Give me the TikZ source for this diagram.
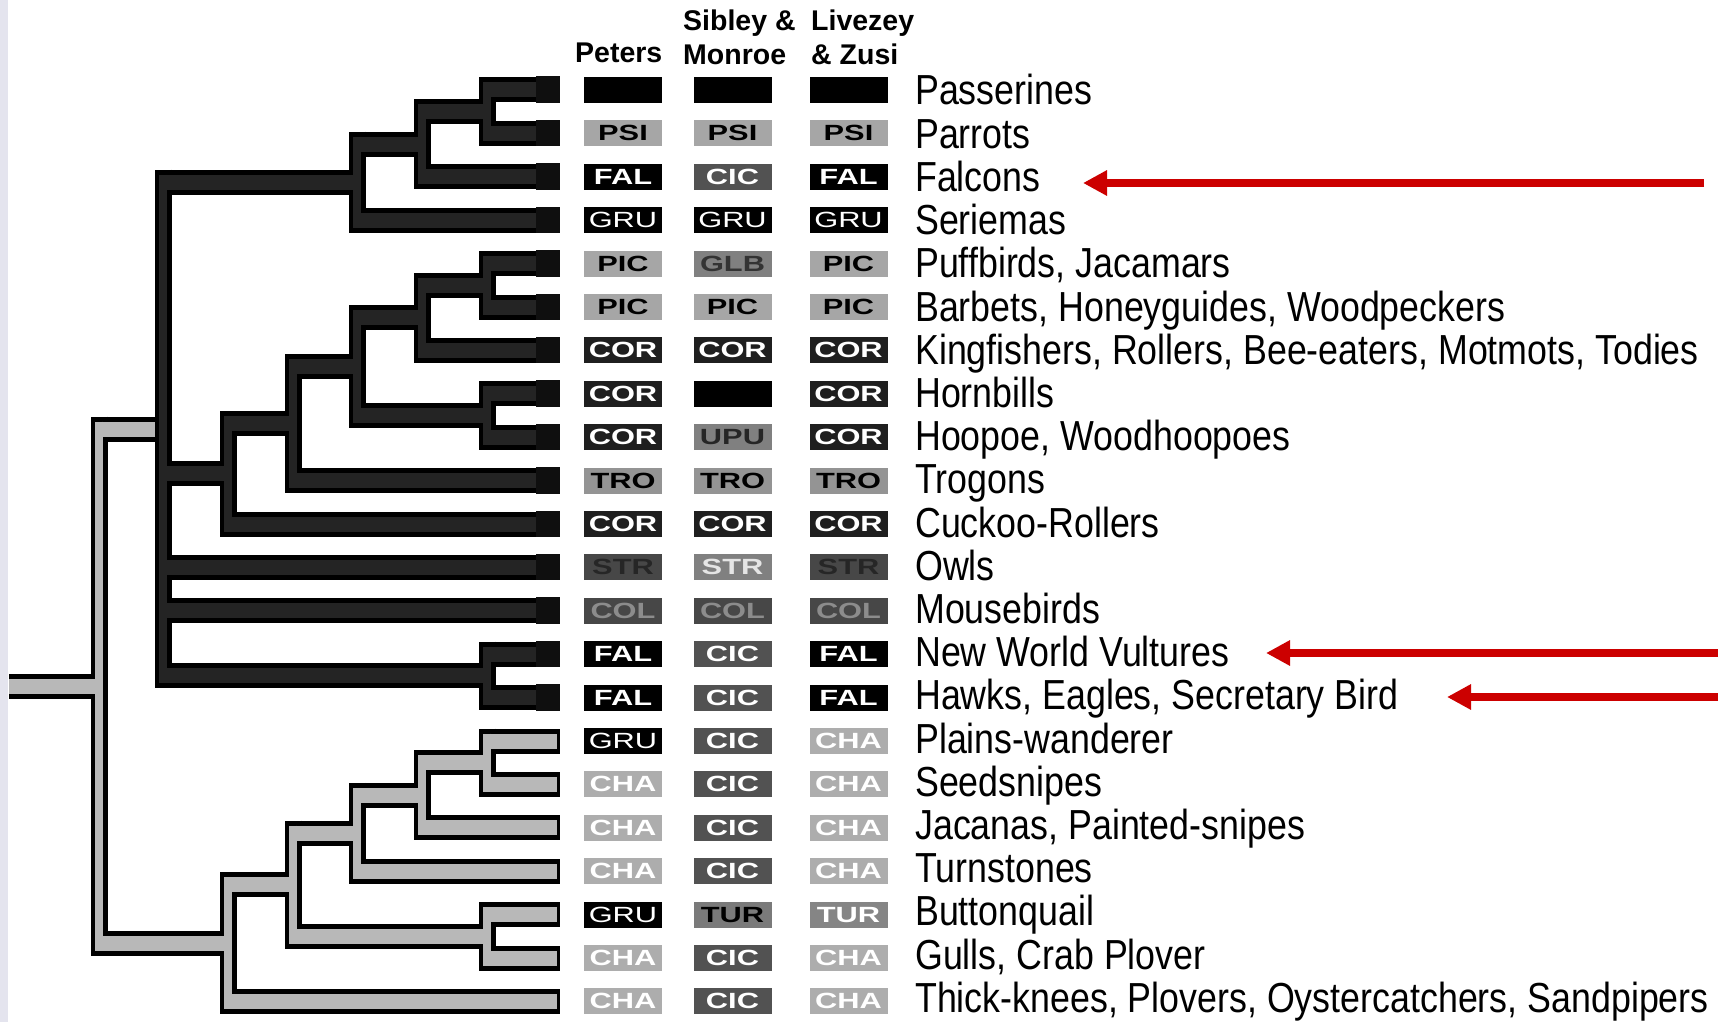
\documentclass[tikz,border=0pt]{standalone}
\usepackage{fontspec}
\setmainfont{Liberation Sans}
\newfontfamily\namefont[FakeStretch=0.852]{Liberation Sans}
\newfontfamily\bxfont[FakeStretch=1.4]{Liberation Sans}
\usetikzlibrary{calc,arrows.meta}
\definecolor{arrred}{RGB}{204,0,0}
\definecolor{edgestrip}{RGB}{228,228,238}
\newcommand\brOutline{\def\HWc{25pt}\def\VWc{17pt}\def\brExt{12.5}\def\brTins{0}}
\newcommand\brFill{\def\HWc{15pt}\def\VWc{8pt}\def\brExt{7.5}\def\brTins{3}}
% vertical bar of node #1 spanning children #2 (top) .. #3 (bottom)
\newcommand\brV[3]{\draw[line width=\VWc] ($(#1 |- #2)+(0,-\brExt)$) -- ($(#1 |- #3)+(0,\brExt)$);}
% horizontal from node #1 to internal child #2
\newcommand\brH[2]{\draw[line width=\HWc] (#1 |- #2) -- (#2);}
% horizontal from node #1 to tip #2
\newcommand\brT[2]{\draw[line width=\HWc] (#1 |- #2) -- ($(#2)+(-\brTins,0)$);}
\newcommand\greyClade{%
  \brV{K}{t16}{t17}\brT{K}{t16}\brT{K}{t17}
  \brV{L}{K}{t18}\brH{L}{K}\brT{L}{t18}
  \brV{M}{L}{t19}\brH{M}{L}\brT{M}{t19}
  \brV{N}{t20}{t21}\brT{N}{t20}\brT{N}{t21}
  \brV{O}{M}{N}\brH{O}{M}\brH{O}{N}
  \brV{P}{O}{t22}\brH{P}{O}\brT{P}{t22}
  \brV{R}{Q}{P}\brH{R}{Q}\brH{R}{P}
  \draw[line width=\HWc] (S) -- (R);}
\newcommand\blackClade{%
  \brV{A}{t1}{t2}\brT{A}{t1}\brT{A}{t2}
  \brV{B}{A}{t3}\brH{B}{A}\brT{B}{t3}
  \brV{C}{B}{t4}\brH{C}{B}\brT{C}{t4}
  \brV{D}{t5}{t6}\brT{D}{t5}\brT{D}{t6}
  \brV{E}{D}{t7}\brH{E}{D}\brT{E}{t7}
  \brV{F}{t8}{t9}\brT{F}{t8}\brT{F}{t9}
  \brV{G}{E}{F}\brH{G}{E}\brH{G}{F}
  \brV{H}{G}{t10}\brH{H}{G}\brT{H}{t10}
  \brV{I}{H}{t11}\brH{I}{H}\brT{I}{t11}
  \brV{J}{t14}{t15}\brT{J}{t14}\brT{J}{t15}
  \brV{Q}{C}{J}\brH{Q}{C}\brH{Q}{I}\brT{Q}{t12}\brT{Q}{t13}\brH{Q}{J}}
\newcommand\rowB[7]{%
  \node[bx,#2] (p#1) at (623,{90+(#1-1)*43.4}) {#3};
  \node[bx,#4] (s#1) at (732.5,{90+(#1-1)*43.4}) {#5};
  \node[bx,#6] (l#1) at (848.5,{90+(#1-1)*43.4}) {#7};}
\newcommand\rowN[2]{\node[nm] (n#1) at (915,{105+(#1-1)*43.2}) {#2};}
\begin{document}
\begin{tikzpicture}[x=1pt,y=-1pt,
  bx/.style={minimum width=78pt,minimum height=26pt,inner sep=0pt,
    text height=15pt,text depth=0pt,
    font=\bxfont\bfseries\fontsize{22pt}{22pt}\selectfont},
  blk/.style={fill=black},
  fal/.style={fill=black,text=white},
  gru/.style={fill=black,text=white,font=\bxfont\mdseries\fontsize{22pt}{22pt}\selectfont},
  cic/.style={fill=black!68,text=white},
  psi/.style={fill=black!35,text=black},
  pic/.style={fill=black!35,text=black},
  glb/.style={fill=black!50,text=black!80},
  upu/.style={fill=black!50,text=black!85},
  cor/.style={fill=black!88,text=white},
  tro/.style={fill=black!42,text=black},
  strd/.style={fill=black!72,text=black!85},
  strl/.style={fill=black!50,text=white!90!black},
  col/.style={fill=black!72,text=black!45},
  cha/.style={fill=black!32,text=white},
  tur/.style={fill=black!52,text=black},
  turl/.style={fill=black!48,text=white},
  nm/.style={anchor=base west,inner sep=0pt,font=\namefont\fontsize{42pt}{42pt}\selectfont},
  hdr/.style={anchor=base west,inner sep=0pt,font=\bfseries\fontsize{28.5pt}{28.5pt}\selectfont},
  redarr/.style={draw=arrred,line width=8pt,-{Triangle[length=24pt,width=24pt]}}]
\fill[white] (0,0) rectangle (1729,1022);
\fill[edgestrip] (0,0) rectangle (8,1022);
\useasboundingbox (0,0) rectangle (1729,1022);
% tips
\foreach \i in {1,...,22} {\coordinate (t\i) at (560,{90+(\i-1)*43.4});}
% internal nodes
\coordinate (A) at (487,111.7);
\coordinate (B) at (422,144.25);
\coordinate (C) at (357,182.2);
\coordinate (D) at (487,285.3);
\coordinate (E) at (422,317.85);
\coordinate (F) at (487,415.5);
\coordinate (G) at (357,366.7);
\coordinate (H) at (293,423.6);
\coordinate (I) at (228,473.8);
\coordinate (J) at (487,675.9);
\coordinate (Q) at (163,429.05);
\coordinate (K) at (487,762.7);
\coordinate (L) at (422,795.25);
\coordinate (M) at (357,833.2);
\coordinate (N) at (487,936.3);
\coordinate (O) at (293,884.75);
\coordinate (P) at (228,943.1);
\coordinate (R) at (99,686.1);
\coordinate (S) at (9,686.1);
% grey clade and root
\begin{scope}[color=black]\brOutline\greyClade\end{scope}
\begin{scope}[color=black!28]\brFill\greyClade\end{scope}
% black clade
\begin{scope}[color=black]\brOutline\blackClade\end{scope}
\begin{scope}[color=black!86]\brFill\blackClade\end{scope}
\foreach \i in {1,...,15} {\fill[black!94] ($(t\i)+(-24,-13.5)$) rectangle ($(t\i)+(0,13)$);}
% headers
\node[hdr] (hP) at (575,63) {Peters};
\node[hdr] (hS1) at (683,31) {Sibley \&};
\node[hdr] (hS2) at (683,65) {Monroe};
\node[hdr] (hL1) at (811,31) {Livezey};
\node[hdr] (hL2) at (811,65) {\& Zusi};
% boxes
\rowB{1}{blk}{}{blk}{}{blk}{}
\rowB{2}{psi}{PSI}{psi}{PSI}{psi}{PSI}
\rowB{3}{fal}{FAL}{cic}{CIC}{fal}{FAL}
\rowB{4}{gru}{GRU}{gru}{GRU}{gru}{GRU}
\rowB{5}{pic}{PIC}{glb}{GLB}{pic}{PIC}
\rowB{6}{pic}{PIC}{pic}{PIC}{pic}{PIC}
\rowB{7}{cor}{COR}{cor}{COR}{cor}{COR}
\rowB{8}{cor}{COR}{blk}{}{cor}{COR}
\rowB{9}{cor}{COR}{upu}{UPU}{cor}{COR}
\rowB{10}{tro}{TRO}{tro}{TRO}{tro}{TRO}
\rowB{11}{cor}{COR}{cor}{COR}{cor}{COR}
\rowB{12}{strd}{STR}{strl}{STR}{strd}{STR}
\rowB{13}{col}{COL}{col}{COL}{col}{COL}
\rowB{14}{fal}{FAL}{cic}{CIC}{fal}{FAL}
\rowB{15}{fal}{FAL}{cic}{CIC}{fal}{FAL}
\rowB{16}{gru}{GRU}{cic}{CIC}{cha}{CHA}
\rowB{17}{cha}{CHA}{cic}{CIC}{cha}{CHA}
\rowB{18}{cha}{CHA}{cic}{CIC}{cha}{CHA}
\rowB{19}{cha}{CHA}{cic}{CIC}{cha}{CHA}
\rowB{20}{gru}{GRU}{tur}{TUR}{turl}{TUR}
\rowB{21}{cha}{CHA}{cic}{CIC}{cha}{CHA}
\rowB{22}{cha}{CHA}{cic}{CIC}{cha}{CHA}
% names
\rowN{1}{Passerines}
\rowN{2}{Parrots}
\rowN{3}{Falcons}
\rowN{4}{Seriemas}
\rowN{5}{Puffbirds, Jacamars}
\rowN{6}{Barbets, Honeyguides, Woodpeckers}
\rowN{7}{Kingfishers, Rollers, Bee-eaters, Motmots, Todies}
\rowN{8}{Hornbills}
\rowN{9}{Hoopoe, Woodhoopoes}
\rowN{10}{Trogons}
\rowN{11}{Cuckoo-Rollers}
\rowN{12}{Owls}
\rowN{13}{Mousebirds}
\rowN{14}{New World Vultures}
\rowN{15}{Hawks, Eagles, Secretary Bird}
\rowN{16}{Plains-wanderer}
\rowN{17}{Seedsnipes}
\rowN{18}{Jacanas, Painted-snipes}
\rowN{19}{Turnstones}
\rowN{20}{Buttonquail}
\rowN{21}{Gulls, Crab Plover}
\rowN{22}{Thick-knees, Plovers, Oystercatchers, Sandpipers}
% red arrows
\coordinate (aF1) at (1704,183); \coordinate (aF2) at (1083,183);
\coordinate (aV1) at (1718,653); \coordinate (aV2) at (1266,653);
\coordinate (aH1) at (1718,697); \coordinate (aH2) at (1447,697);
\draw[redarr] (aF1) -- (aF2);
\draw[redarr] (aV1) -- (aV2);
\draw[redarr] (aH1) -- (aH2);
\end{tikzpicture}
\end{document}
